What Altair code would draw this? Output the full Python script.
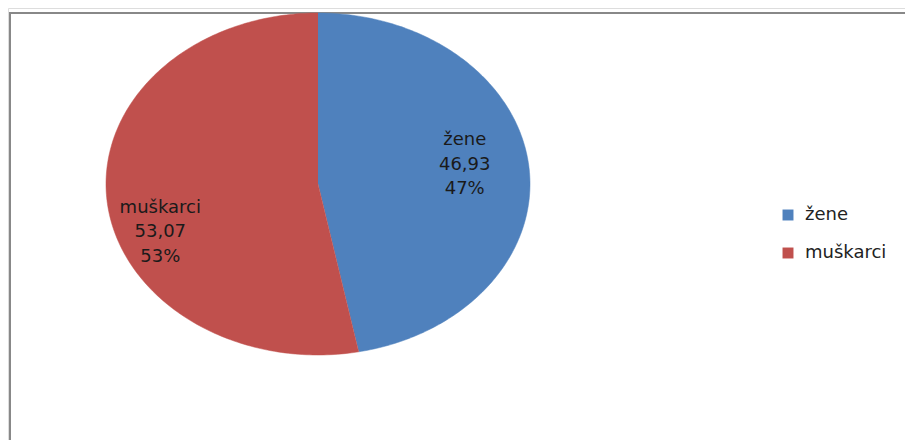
import altair as alt
import pandas as pd

categories = ["žene", "muškarci"]
values = [46.93, 53.07]
colors = ["#4F81BD", "#C0504D"]

data = pd.DataFrame({"cat": categories, "value": values, "ord": list(range(len(categories)))})
frame_df = pd.DataFrame({"a": [0]})

W, H = 897, 432
xscale = alt.Scale(domain=[-1, 1], range=[98, 522])
yscale = alt.Scale(domain=[-1, 1], range=[347, 5])
cscale = alt.Scale(domain=categories, range=colors)

base = (
    alt.Chart(data)
    .transform_joinaggregate(total="sum(value)")
    .transform_window(cum="sum(value)", sort=[alt.SortField("ord")], frame=[None, 0])
    .transform_calculate(
        a0="(datum.cum - datum.value) / datum.total * 2 * PI",
        a1="datum.cum / datum.total * 2 * PI",
    )
)

slices = (
    base.transform_calculate(pts="sequence(-1, 201)")
    .transform_flatten(["pts"])
    .transform_calculate(
        ang="datum.a0 + (datum.a1 - datum.a0) * datum.pts / 200",
    )
    .transform_calculate(
        px="datum.pts < 0 ? 0 : sin(datum.ang)",
        py="datum.pts < 0 ? 0 : cos(datum.ang)",
    )
    .mark_line(strokeWidth=0.5, interpolate="linear")
    .encode(
        x=alt.X("px:Q", scale=xscale, axis=None),
        y=alt.Y("py:Q", scale=yscale, axis=None),
        order=alt.Order("pts:Q"),
        detail="cat:N",
        fill=alt.Fill(
            "cat:N",
            scale=cscale,
            legend=alt.Legend(
                title=None,
                orient="none",
                legendX=771,
                legendY=198,
                symbolType="square",
                symbolSize=120,
                symbolStrokeWidth=0,
                labelFontSize=18,
                labelFont="DejaVu Sans",
                labelColor="#222222",
                labelOffset=8,
                rowPadding=20,
                padding=0,
            ),
        ),
        stroke=alt.Stroke("cat:N", scale=cscale, legend=None),
    )
)

labels_base = base.transform_calculate(
    mid="(datum.a0 + datum.a1) / 2",
    txt="datum.cat + '\\n' + replace(format(datum.value, '.2f'), '.', ',') + '\\n' + format(datum.value / datum.total, '.0%')",
).transform_calculate(
    lx="0.7 * sin(datum.mid)",
    ly="0.7 * cos(datum.mid)",
)

def label_layer(cat, dx, dy):
    return (
        labels_base.transform_filter(alt.datum.cat == cat)
        .mark_text(
            lineBreak="\n",
            lineHeight=24.5,
            fontSize=18,
            font="DejaVu Sans",
            color="#1a1a1a",
            align="center",
            baseline="middle",
            dx=dx,
            dy=dy,
        )
        .encode(
            x=alt.X("lx:Q", scale=xscale, axis=None),
            y=alt.Y("ly:Q", scale=yscale, axis=None),
            text="txt:N",
        )
    )

frame_left = alt.Chart(frame_df).mark_rule(color="#888888", strokeWidth=2).encode(
    x=alt.value(2), y=alt.value(4), y2=alt.value(H)
)
frame_top = alt.Chart(frame_df).mark_rule(color="#888888", strokeWidth=2).encode(
    x=alt.value(1), x2=alt.value(W), y=alt.value(5)
)

chart = (
    alt.layer(
        frame_left,
        frame_top,
        slices,
        label_layer("žene", -1, -32),
        label_layer("muškarci", -10, 12),
    )
    .properties(width=W, height=H, autosize=alt.AutoSizeParams(type="none"), padding=0)
    .configure_view(stroke=None)
    .configure(background="white")
)

chart.save("out.html", embed_options={"renderer": "svg", "actions": False})
